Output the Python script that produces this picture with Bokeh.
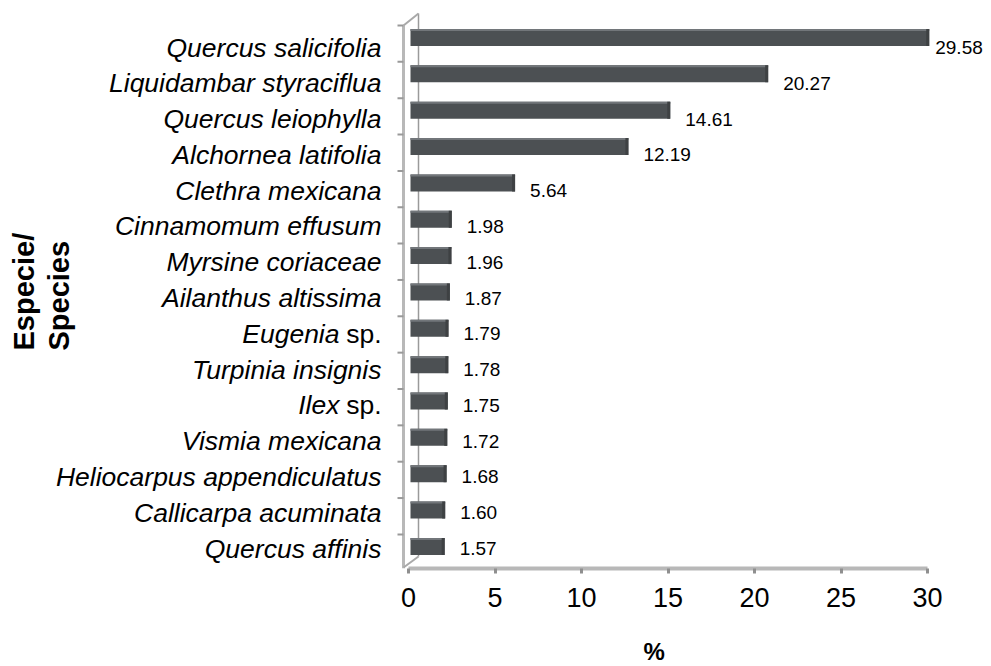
from bokeh.plotting import figure
from bokeh.models import Range1d, ColumnDataSource, SingleIntervalTicker, Title
from bokeh.embed import file_html
from bokeh.resources import INLINE
from bokeh.core.properties import value
import math

# ---------------- data ----------------
species = ["Quercus salicifolia", "Liquidambar styraciflua", "Quercus leiophylla",
           "Alchornea latifolia", "Clethra mexicana", "Cinnamomum effusum",
           "Myrsine coriaceae", "Ailanthus altissima", "Eugenia", "Turpinia insignis",
           "Ilex", "Vismia mexicana", "Heliocarpus appendiculatus",
           "Callicarpa acuminata", "Quercus affinis"]
suffix = ["", "", "", "", "", "", "", "", "sp.", "", "sp.", "", "", "", ""]
percent = [29.58, 20.27, 14.61, 12.19, 5.64, 1.98, 1.96, 1.87, 1.79, 1.78,
           1.75, 1.72, 1.68, 1.60, 1.57]
x_ticks_interval = 5
x_max = 30
x_title = "%"
y_title = ["Especie/", "Species"]

# ---------------- layout constants (pixels in the page) ----------------
FONT = "Liberation Sans"
W, H = 985, 664
FRAME_L, FRAME_R, FRAME_T, FRAME_B = 0, 983, 4, 568
X0_PX, PX_PER_UNIT = 408, 17.3          # value 0 position, px per %
BAR_SHIFT = 9                            # 3D depth shift of bar ends
n = len(species)
BAR_TOP_PX, BAR_STEP = 37, 36.35
LAB_TOP_PX, LAB_STEP = 47, 35.79

x_start = (FRAME_L - X0_PX) / PX_PER_UNIT
x_end = (FRAME_R - X0_PX) / PX_PER_UNIT
bx_start = (FRAME_L - X0_PX - BAR_SHIFT) / PX_PER_UNIT
bx_end = (FRAME_R - X0_PX - BAR_SHIFT) / PX_PER_UNIT
y_end = (n - 1) + (BAR_TOP_PX - FRAME_T) / BAR_STEP
y_start = y_end - (FRAME_B - FRAME_T) / BAR_STEP
ly_end = (n - 1) + (LAB_TOP_PX - FRAME_T) / LAB_STEP
ly_start = ly_end - (FRAME_B - FRAME_T) / LAB_STEP


def px_x(px):
    return (px - X0_PX) / PX_PER_UNIT


def px_bx(px):
    return (px - X0_PX - BAR_SHIFT) / PX_PER_UNIT


def px_by(py):
    return y_end - (py - FRAME_T) / BAR_STEP


def px_ly(py):
    return ly_end - (py - FRAME_T) / LAB_STEP


p = figure(width=W, height=H, output_backend="svg", toolbar_location=None,
           x_range=Range1d(x_start, x_end), y_range=Range1d(y_start, y_end),
           y_axis_location=None, min_border_left=FRAME_L,
           min_border_right=W - FRAME_R, min_border_top=FRAME_T,
           min_border_bottom=H - FRAME_B)
p.extra_x_ranges = {"bar": Range1d(bx_start, bx_end)}
p.extra_y_ranges = {"lab": Range1d(ly_start, ly_end)}
p.outline_line_color = None
p.xgrid.visible = False
p.ygrid.visible = False
p.background_fill_color = "white"
p.border_fill_color = "white"

# ---------------- x axis ----------------
ax = p.xaxis[0]
ax.ticker = SingleIntervalTicker(interval=x_ticks_interval)
ax.bounds = (0, x_max)
ax.axis_line_color = "#b8b8b8"
ax.axis_line_width = 4
ax.major_tick_line_color = "#8f8f8f"
ax.major_tick_line_width = 3
ax.major_tick_in = 0
ax.major_tick_out = 5
ax.minor_tick_line_color = None
ax.major_label_text_font = FONT
ax.major_label_text_font_size = "27px"
ax.major_label_text_color = "black"
ax.major_label_standoff = 14

# "%" title below the axis, shifted to sit under the middle of the scale
p.add_layout(Title(text=x_title, align="left", offset=643, standoff=0,
                   padding=(0, 0, 26, 0),
                   text_font=FONT, text_font_size="24px", text_font_style="bold",
                   text_color="black"), "below")

# ---------------- 3D wall decoration ----------------
wall_c = "#a9a9a9"
p.segment(x0=[px_x(403)], y0=[px_by(25)], x1=[px_x(403)], y1=[px_by(568)],
          line_color="#b8b8b8", line_width=3)
p.segment(x0=[px_x(418)], y0=[px_by(13)], x1=[px_x(418)], y1=[px_by(556)],
          line_color="#9a9a9a", line_width=1.5)
p.segment(x0=[px_x(403)], y0=[px_by(25)], x1=[px_x(418)], y1=[px_by(13)],
          line_color=wall_c, line_width=2)
p.segment(x0=[px_x(403)], y0=[px_by(567)], x1=[px_x(418)], y1=[px_by(556)],
          line_color=wall_c, line_width=2)
vals_y = [n - 1 - i for i in range(n)]
tick_y = [v + 12 / BAR_STEP for v in vals_y]
p.segment(x0=[px_x(397)] * n, y0=tick_y, x1=[px_x(403)] * n, y1=tick_y,
          line_color="#999999", line_width=2)

# ---------------- bars ----------------
bar_h = 17 / BAR_STEP
bar_left = px_bx(410)
src = ColumnDataSource(dict(y=vals_y, right=percent, left=[bar_left] * n))
p.hbar(y="y", left="left", right="right", height=bar_h, source=src,
       x_range_name="bar", fill_color="#4c5053", line_color=None)
src_top = ColumnDataSource(dict(y=[v + bar_h / 2 - 1.0 / BAR_STEP for v in vals_y],
                                right=percent, left=[bar_left] * n))
p.hbar(y="y", left="left", right="right", height=2.0 / BAR_STEP, source=src_top,
       x_range_name="bar", fill_color="#72767a", line_color=None)
src_cap = ColumnDataSource(dict(y=vals_y, right=percent,
                                left=[v - 3 / PX_PER_UNIT for v in percent]))
p.hbar(y="y", left="left", right="right", height=bar_h, source=src_cap,
       x_range_name="bar", fill_color="#3e4143", line_color=None)

# ---------------- value labels ----------------
lab_y = [n - 1 - i for i in range(n)]
offs = [15 if v < 28 else 6 for v in percent]
vsrc = ColumnDataSource(dict(x=percent, y=lab_y, t=["%.2f" % v for v in percent],
                             off=offs))
p.text(x="x", y="y", text="t", x_offset="off", source=vsrc, x_range_name="bar",
       y_range_name="lab", text_font=value(FONT), text_font_size="19px",
       text_baseline="middle", text_align="left", text_color="black")

# ---------------- species labels ----------------
LABEL_RIGHT = 381
SP_GAP = 42
LBL_SIZE = "26.5px"
name_x = [px_x(LABEL_RIGHT - SP_GAP) if s else px_x(LABEL_RIGHT) for s in suffix]
nsrc = ColumnDataSource(dict(x=name_x, y=lab_y, t=species))
p.text(x="x", y="y", text="t", source=nsrc, y_range_name="lab",
       text_font=value(FONT), text_font_size=LBL_SIZE, text_font_style="italic",
       text_align="right", text_baseline="middle", text_color="black")
sfx_idx = [i for i, s in enumerate(suffix) if s]
ssrc = ColumnDataSource(dict(x=[px_x(LABEL_RIGHT)] * len(sfx_idx),
                             y=[lab_y[i] for i in sfx_idx],
                             t=[suffix[i] for i in sfx_idx]))
p.text(x="x", y="y", text="t", source=ssrc, y_range_name="lab",
       text_font=value(FONT), text_font_size=LBL_SIZE,
       text_align="right", text_baseline="middle", text_color="black")

# ---------------- y title ----------------
tsrc = ColumnDataSource(dict(x=[px_x(23), px_x(58)], y=[px_ly(350)] * 2, t=y_title))
p.text(x="x", y="y", text="t", source=tsrc, y_range_name="lab", angle=math.pi / 2,
       text_font=value(FONT), text_font_size="29px", text_font_style="bold",
       text_align="left", text_baseline="middle", text_color="black")

open("out.html", "w").write(file_html(p, INLINE))
